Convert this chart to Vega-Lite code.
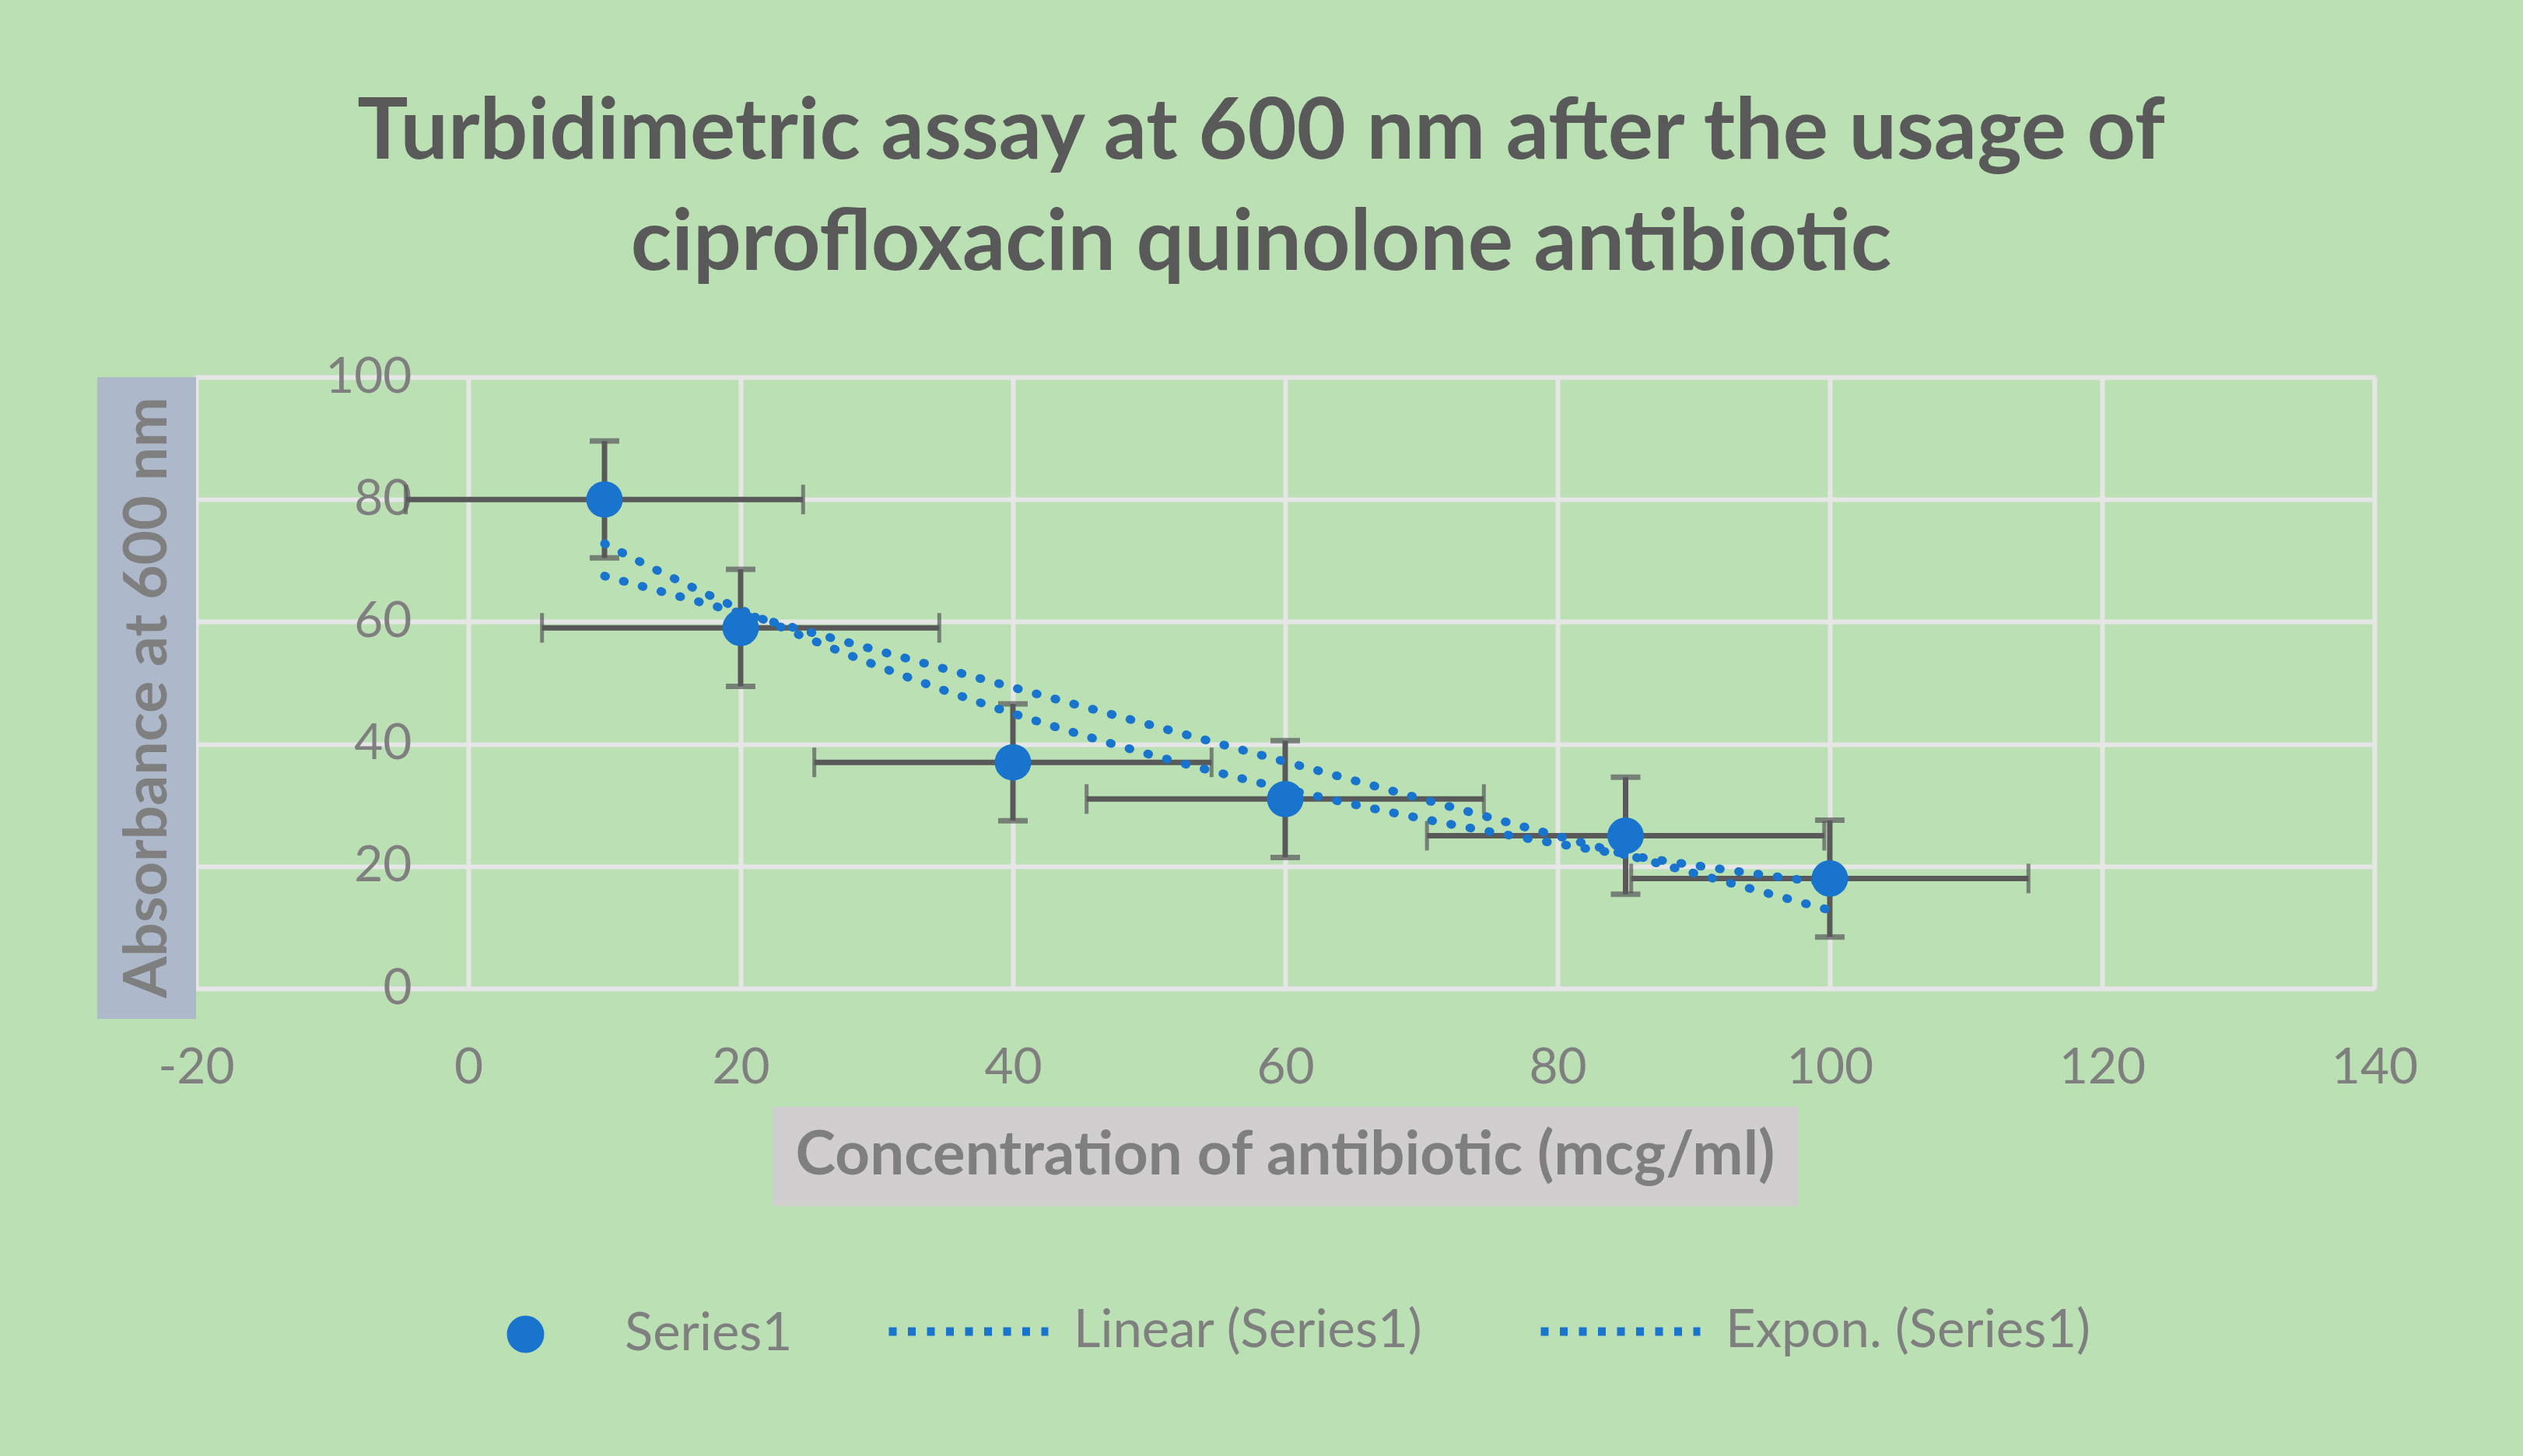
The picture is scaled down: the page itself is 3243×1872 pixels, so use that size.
{
  "$schema": "https://vega.github.io/schema/vega-lite/v6.json",
  "width": 2800,
  "height": 786,
  "autosize": {"type": "none"},
  "padding": {"left": 252, "top": 485, "right": 191, "bottom": 601},
  "background": "#BAE0B4",
  "config": {
    "font": "Lato",
    "view": {"stroke": "#D9D9D9", "strokeWidth": 6},
    "axis": {
      "grid": true,
      "gridColor": "#E6E6E6",
      "gridWidth": 6,
      "domain": false,
      "ticks": false,
      "tickSize": 0,
      "labelFont": "Lato",
      "labelFontSize": 64,
      "labelColor": "#7F7F7F",
      "labelFlush": false,
      "labelOverlap": false,
      "labelBound": false,
      "labelExpr": "'' + datum.value"
    },
    "legend": {
      "labelFont": "Lato",
      "labelFontSize": 67,
      "labelColor": "#7F7F7F",
      "labelLimit": 0,
      "padding": 0,
      "orient": "none",
      "direction": "horizontal"
    }
  },
  "title": {
    "text": ["Turbidimetric assay at 600 nm after the usage of", "ciprofloxacin quinolone antibiotic"],
    "anchor": "middle",
    "frame": "group",
    "font": "Lato",
    "fontSize": 109,
    "fontWeight": "bold",
    "color": "#595959",
    "lineHeight": 143,
    "offset": 83,
    "dx": -31
  },
  "data": {
    "values": [
      {"conc": 10, "abs": 80, "xerr": 14.59, "yerr": 9.56},
      {"conc": 20, "abs": 59, "xerr": 14.59, "yerr": 9.56},
      {"conc": 40, "abs": 37, "xerr": 14.59, "yerr": 9.56},
      {"conc": 60, "abs": 31, "xerr": 14.59, "yerr": 9.56},
      {"conc": 85, "abs": 25, "xerr": 14.59, "yerr": 9.56},
      {"conc": 100, "abs": 18, "xerr": 14.59, "yerr": 9.56}
    ]
  },
  "layer": [
    {
      "data": {"values": [{}]},
      "mark": {"type": "rect", "color": "#ADB9CA"},
      "encoding": {
        "x": {"datum": -27.26, "type": "quantitative", "scale": {"domain": [-20, 140], "nice": false, "zero": false}},
        "x2": {"datum": -20},
        "y": {"datum": 100, "type": "quantitative", "scale": {"domain": [0, 100], "nice": false, "zero": false}},
        "y2": {"datum": -4.96}
      }
    },
    {
      "data": {"values": [{}]},
      "mark": {"type": "rect", "color": "#D0CECE"},
      "encoding": {
        "x": {"datum": 22.34, "type": "quantitative"},
        "x2": {"datum": 97.71},
        "y": {"datum": -19.34, "type": "quantitative"},
        "y2": {"datum": -35.6}
      }
    },
    {
      "data": {"values": [{}]},
      "mark": {"type": "text", "text": "Absorbance at 600 nm", "angle": 270, "font": "Lato", "fontWeight": "bold", "fontSize": 77, "color": "#7F7F7F", "align": "center", "baseline": "middle"},
      "encoding": {
        "x": {"datum": -23.5, "type": "quantitative"},
        "y": {"datum": 47.6, "type": "quantitative"}
      }
    },
    {
      "data": {"values": [{}]},
      "mark": {"type": "text", "text": "Concentration of antibiotic (mcg/ml)", "font": "Lato", "fontWeight": "bold", "fontSize": 78, "color": "#7F7F7F", "align": "center", "baseline": "middle"},
      "encoding": {
        "x": {"datum": 60, "type": "quantitative"},
        "y": {"datum": -27.5, "type": "quantitative"}
      }
    },
    {
      "mark": {"type": "errorbar", "color": "#595959", "thickness": 7, "ticks": {"size": 38, "thickness": 7, "color": "#595959"}},
      "encoding": {
        "x": {"field": "conc", "type": "quantitative", "title": null},
        "y": {"field": "abs", "type": "quantitative", "title": null},
        "yError": {"field": "yerr"}
      }
    },
    {
      "mark": {"type": "errorbar", "color": "#595959", "thickness": 7, "ticks": {"size": 38, "thickness": 5, "color": "#595959"}},
      "encoding": {
        "y": {"field": "abs", "type": "quantitative", "title": null},
        "x": {"field": "conc", "type": "quantitative", "title": null},
        "xError": {"field": "xerr"}
      }
    },
    {
      "transform": [{"regression": "abs", "on": "conc", "method": "linear"}],
      "mark": {"type": "line", "strokeWidth": 11, "strokeDash": [1.5, 23.5], "strokeCap": "round"},
      "encoding": {
        "x": {"field": "conc", "type": "quantitative", "title": null},
        "y": {"field": "abs", "type": "quantitative", "title": null},
        "stroke": {
          "datum": "Linear (Series1)", "type": "nominal",
          "scale": {"domain": ["Linear (Series1)", "Expon. (Series1)"], "range": ["#1874CD", "#1874CD"]},
          "legend": {
            "title": null,
            "legendX": 885,
            "legendY": 1119,
            "symbolType": "stroke",
            "symbolSize": 42000,
            "symbolStrokeWidth": 11,
            "symbolDash": [10, 14.5],
            "symbolStrokeColor": "#1874CD",
            "labelOffset": 27,
            "columnPadding": 128
          }
        }
      }
    },
    {
      "transform": [{"regression": "abs", "on": "conc", "method": "exp"}],
      "mark": {"type": "line", "strokeWidth": 11, "strokeDash": [1.5, 23.5], "strokeCap": "round"},
      "encoding": {
        "x": {"field": "conc", "type": "quantitative", "title": null},
        "y": {"field": "abs", "type": "quantitative", "title": null},
        "stroke": {"datum": "Expon. (Series1)", "type": "nominal"}
      }
    },
    {
      "mark": {"type": "point", "filled": true, "size": 2200, "opacity": 1},
      "encoding": {
        "x": {
          "field": "conc", "type": "quantitative", "title": null,
          "scale": {"domain": [-20, 140], "nice": false, "zero": false},
          "axis": {"values": [-20, 0, 20, 40, 60, 80, 100, 120, 140], "labelPadding": 70}
        },
        "y": {
          "field": "abs", "type": "quantitative", "title": null,
          "scale": {"domain": [0, 100], "nice": false, "zero": false},
          "axis": {"values": [0, 20, 40, 60, 80, 100], "offset": -350, "labelPadding": 73}
        },
        "fill": {
          "datum": "Series1", "type": "nominal",
          "scale": {"domain": ["Series1"], "range": ["#1874CD"]},
          "legend": {
            "title": null,
            "legendX": 390,
            "legendY": 1197,
            "symbolType": "circle",
            "symbolSize": 2300,
            "symbolStrokeWidth": 0,
            "labelOffset": 94
          }
        }
      }
    }
  ]
}
